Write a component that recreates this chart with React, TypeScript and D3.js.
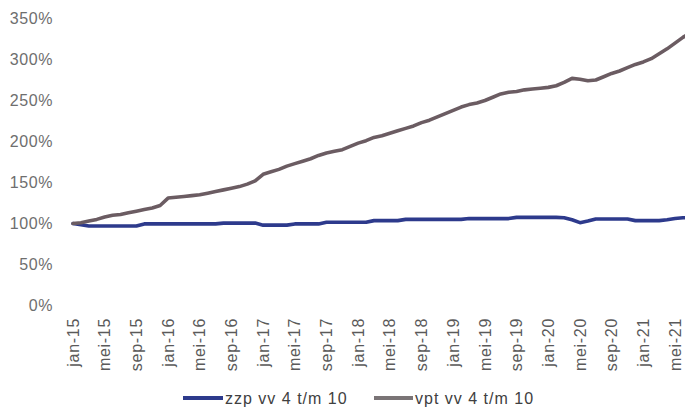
import React from "react";
import * as d3 from "d3";

const monthNames = ["jan", "feb", "mrt", "apr", "mei", "jun", "jul", "aug", "sep", "okt", "nov", "dec"];
const years = ["15", "16", "17", "18", "19", "20", "21"];
const categories: string[] = years.flatMap((y) => monthNames.map((m) => `${m}-${y}`)).slice(0, 79);

const zzpValues = [
  100, 98.5, 97, 97, 97, 97, 97, 97, 97, 99.5, 99.5, 99.5, 99.5, 99.5, 99.5, 99.5, 99.5, 99.5, 99.5,
  100.5, 100.5, 100.5, 100.5, 100.5, 98, 98, 98, 98, 99.5, 99.5, 99.5, 99.5, 101.5, 101.5, 101.5, 101.5,
  101.5, 101.5, 103.5, 103.5, 103.5, 103.5, 105, 105, 105, 105, 105, 105, 105, 105, 106, 106, 106, 106,
  106, 106, 107.5, 107.5, 107.5, 107.5, 107.5, 107.5, 107, 104.5, 101, 103, 105.5, 105.5, 105.5, 105.5,
  105.5, 103.5, 103.5, 103.5, 103.5, 104.5, 106, 107, 107,
];

const vptValues = [
  100, 101, 103, 105, 108, 110, 111, 113, 115, 117, 119, 122, 131, 132, 133, 134, 135, 137, 139, 141,
  143, 145, 148, 152, 160, 163, 166, 170, 173, 176, 179, 183, 186, 188, 190, 194, 198, 201, 205, 207,
  210, 213, 216, 219, 223, 226, 230, 234, 238, 242, 245, 247, 250, 254, 258, 260, 261, 263, 264, 265,
  266, 268, 272, 277, 276, 274, 275, 279, 283, 286, 290, 294, 297, 301, 307, 313, 320, 327, 333,
];

const yTicks = [0, 50, 100, 150, 200, 250, 300, 350];

const seriesNames = ["zzp vv 4 t/m 10", "vpt vv 4 t/m 10"];
const seriesColors = ["#2d3a8c", "#6b5c62"];
const legendColors = ["#2d3a8c", "#7a7476"];

export default function App() {
  const x = d3.scaleLinear().domain([0, 76]).range([73, 675]);
  const y = d3.scaleLinear().domain([0, 350]).range([305.5, 18.5]);
  const line = d3
    .line<number>()
    .x((_, i) => x(i))
    .y((d) => y(d));
  const series = [zzpValues, vptValues];
  const font = "'Liberation Sans', Arial, sans-serif";

  return (
    <svg
      width={685}
      height={412}
      style={{ position: "fixed", left: 0, top: 0, background: "#fff" }}
      fontFamily={font}
    >
      <rect width={685} height={412} fill="#fff" />
      {yTicks.map((t) => (
        <text
          key={t}
          x={53}
          y={y(t)}
          dy="0.35em"
          textAnchor="end"
          fontSize={16}
          letterSpacing={0.6}
          fill="#6e6e6e"
        >
          {`${t}%`}
        </text>
      ))}
      {categories.map((c, i) =>
        i % 4 === 0 ? (
          <text
            key={c}
            transform={`translate(${x(i)},318) rotate(-90)`}
            dy="0.35em"
            textAnchor="end"
            fontSize={16}
            letterSpacing={0.7}
            fill="#5a5a5a"
          >
            {c}
          </text>
        ) : null
      )}
      {series.map((s, k) => (
        <path
          key={k}
          d={line(s) || ""}
          fill="none"
          stroke={seriesColors[k]}
          strokeWidth={3.6}
          strokeLinejoin="round"
          strokeLinecap="round"
        />
      ))}
      <g>
        <line x1={183} x2={223} y1={398} y2={398} stroke={legendColors[0]} strokeWidth={4} />
        <text x={225} y={404} fontSize={16} letterSpacing={1} fill="#404040">
          {seriesNames[0]}
        </text>
        <line x1={374} x2={413} y1={398} y2={398} stroke={legendColors[1]} strokeWidth={4} />
        <text x={415} y={404} fontSize={16} letterSpacing={1} fill="#404040">
          {seriesNames[1]}
        </text>
      </g>
    </svg>
  );
}
